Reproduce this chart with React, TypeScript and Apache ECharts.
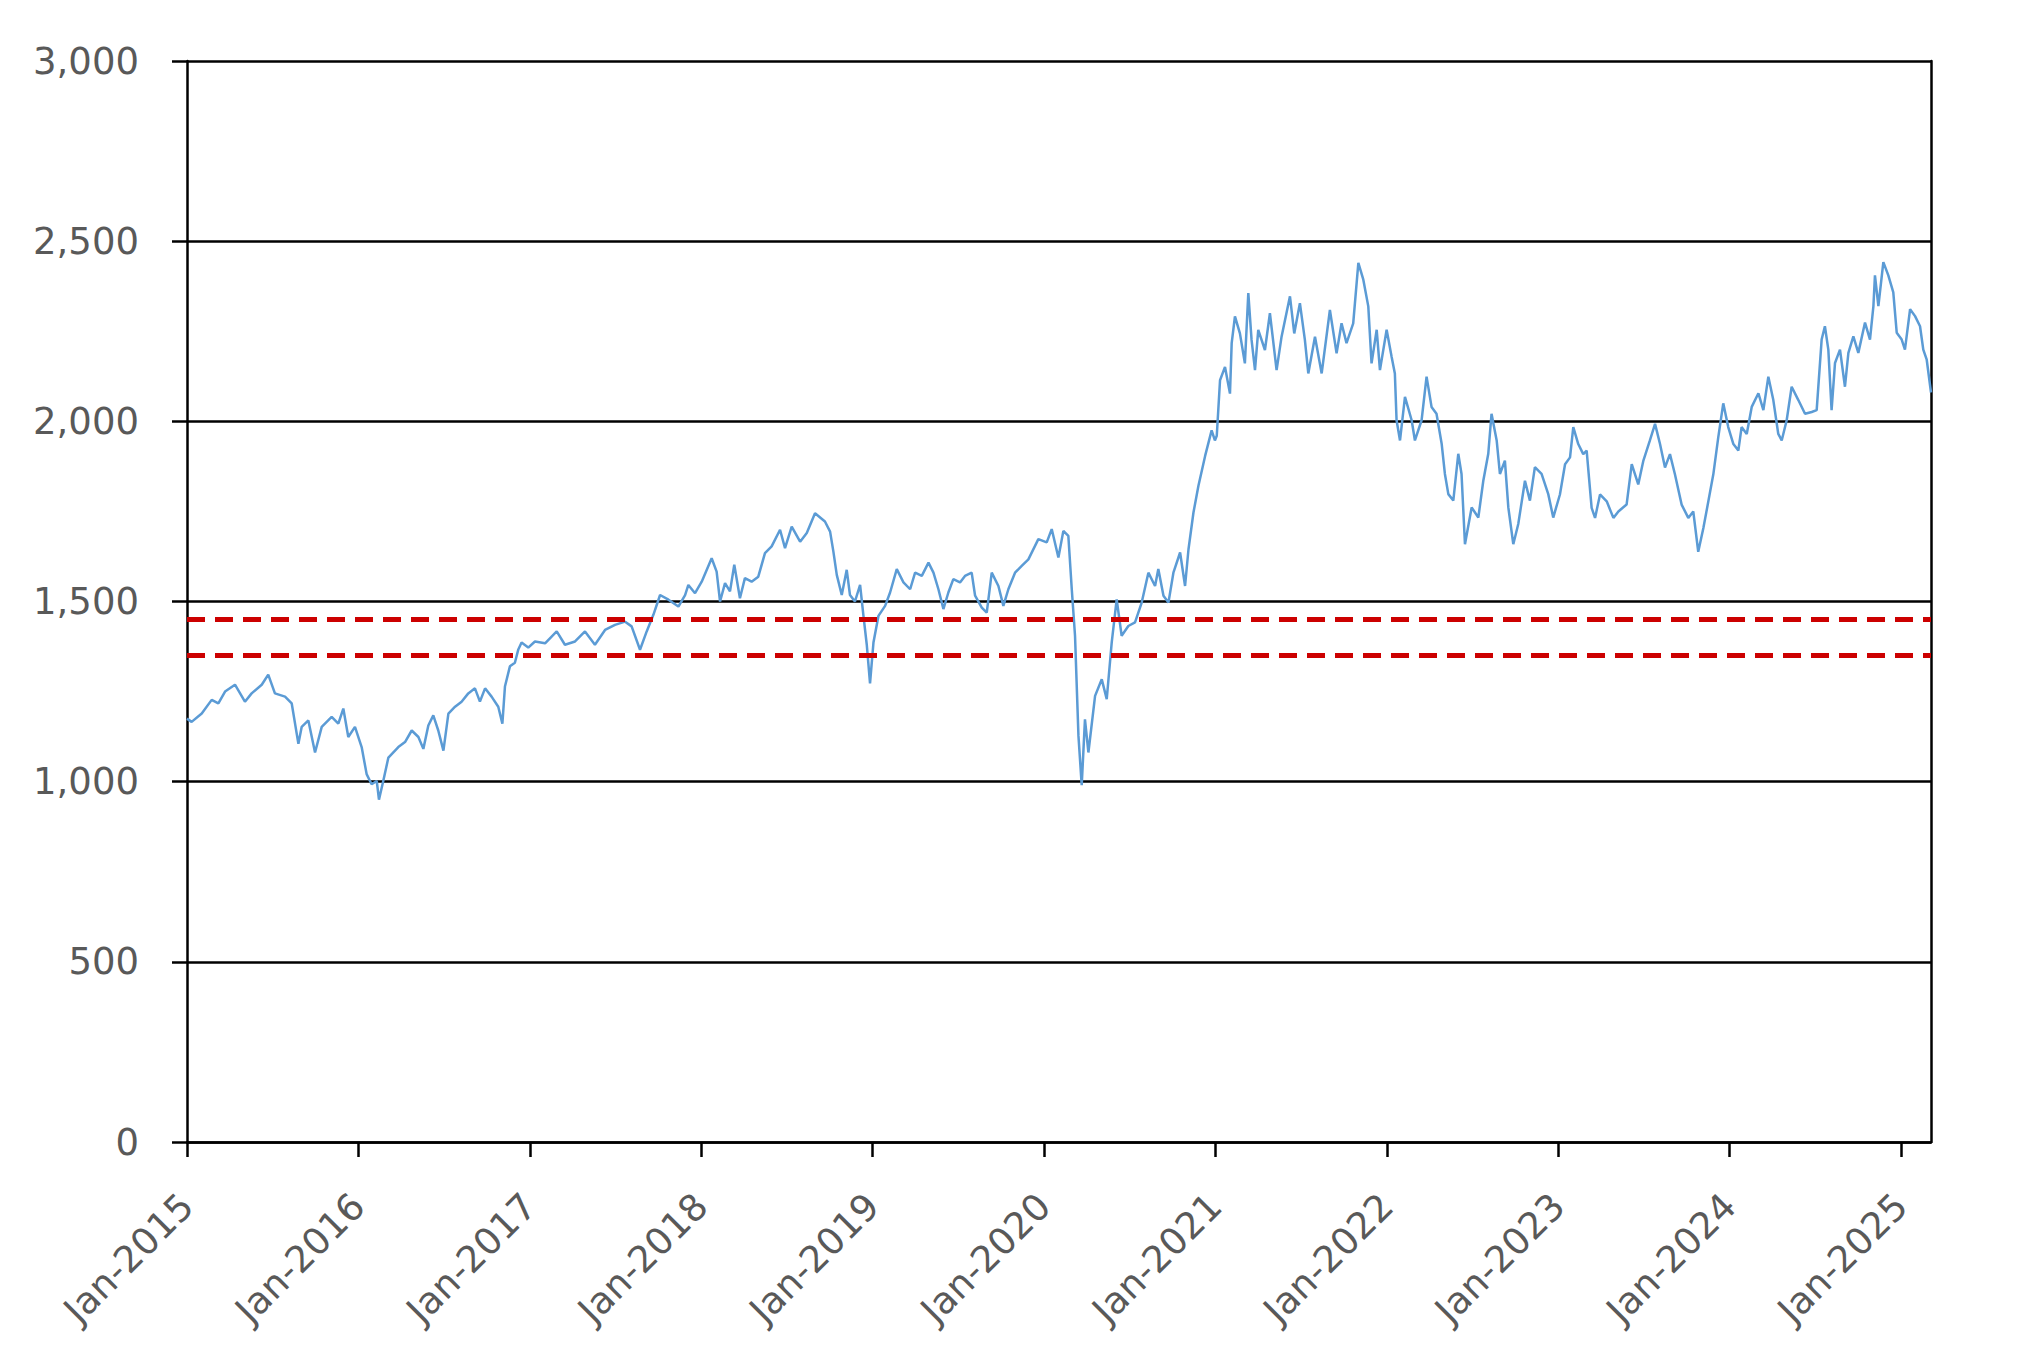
import React, { useEffect, useRef } from "react";
import * as echarts from "echarts";

// Decimal-year positions of the sampled points
const dates: number[] = [
  2015.000, 2015.027, 2015.086, 2015.144, 2015.183, 2015.222, 2015.280, 2015.338, 2015.377, 2015.436,
  2015.474, 2015.513, 2015.572, 2015.611, 2015.650, 2015.669, 2015.708, 2015.747, 2015.786, 2015.844,
  2015.883, 2015.912, 2015.941, 2015.980, 2016.019, 2016.048, 2016.077, 2016.107, 2016.120, 2016.145,
  2016.175, 2016.233, 2016.272, 2016.311, 2016.350, 2016.379, 2016.408, 2016.437, 2016.466, 2016.496,
  2016.525, 2016.564, 2016.602, 2016.641, 2016.680, 2016.709, 2016.739, 2016.777, 2016.816, 2016.840,
  2016.855, 2016.884, 2016.913, 2016.933, 2016.952, 2016.991,
  2017.030, 2017.089, 2017.157, 2017.205, 2017.264, 2017.322, 2017.380, 2017.439, 2017.497, 2017.556,
  2017.594, 2017.643, 2017.682, 2017.721, 2017.760, 2017.809, 2017.867, 2017.906, 2017.925, 2017.964,
  2018.003, 2018.061, 2018.090, 2018.110, 2018.139, 2018.168, 2018.193, 2018.226, 2018.255, 2018.294,
  2018.333, 2018.372, 2018.411, 2018.460, 2018.489, 2018.528, 2018.577, 2018.616, 2018.664, 2018.722,
  2018.752, 2018.771, 2018.791, 2018.820, 2018.849, 2018.868, 2018.897, 2018.927, 2018.946, 2018.966,
  2018.985,
  2019.005, 2019.034, 2019.073, 2019.102, 2019.141, 2019.180, 2019.219, 2019.248, 2019.287, 2019.326,
  2019.355, 2019.384, 2019.413, 2019.442, 2019.471, 2019.510, 2019.539, 2019.578, 2019.598, 2019.637,
  2019.666, 2019.695, 2019.734, 2019.763, 2019.792, 2019.831, 2019.870, 2019.909, 2019.967, 2020.016,
  2020.045, 2020.084, 2020.113, 2020.142, 2020.162, 2020.181, 2020.201, 2020.220, 2020.239, 2020.259,
  2020.298, 2020.337, 2020.366, 2020.395, 2020.424, 2020.453, 2020.492, 2020.531, 2020.570, 2020.609,
  2020.648, 2020.667, 2020.697, 2020.726, 2020.755, 2020.794, 2020.823, 2020.843, 2020.872, 2020.901,
  2020.940, 2020.978, 2020.997,
  2021.008, 2021.027, 2021.056, 2021.085, 2021.095, 2021.114, 2021.143, 2021.172, 2021.192, 2021.211,
  2021.231, 2021.250, 2021.289, 2021.318, 2021.357, 2021.386, 2021.435, 2021.460, 2021.493, 2021.522,
  2021.542, 2021.581, 2021.620, 2021.668, 2021.707, 2021.736, 2021.765, 2021.804, 2021.834, 2021.863,
  2021.892, 2021.911, 2021.941, 2021.960, 2021.999, 2022.028, 2022.047, 2022.057, 2022.077, 2022.106,
  2022.145, 2022.164, 2022.203, 2022.232, 2022.261, 2022.290, 2022.320, 2022.339, 2022.359, 2022.388,
  2022.417, 2022.436, 2022.456, 2022.495, 2022.534, 2022.563, 2022.592, 2022.611, 2022.641, 2022.660,
  2022.689, 2022.709, 2022.738, 2022.767, 2022.806, 2022.835, 2022.864, 2022.903, 2022.942, 2022.971,
  2023.010, 2023.040, 2023.069, 2023.088, 2023.117, 2023.146, 2023.166, 2023.195, 2023.215, 2023.244,
  2023.283, 2023.322, 2023.351, 2023.399, 2023.429, 2023.467, 2023.497, 2023.535, 2023.565, 2023.594,
  2023.623, 2023.652, 2023.681, 2023.720, 2023.759, 2023.788, 2023.817, 2023.847, 2023.876, 2023.905,
  2023.934, 2023.963, 2023.992, 2024.022, 2024.051, 2024.070, 2024.100, 2024.129, 2024.168, 2024.197,
  2024.226, 2024.255, 2024.284, 2024.304, 2024.333, 2024.362, 2024.401, 2024.440, 2024.479, 2024.508,
  2024.537, 2024.556, 2024.576, 2024.595, 2024.615, 2024.644, 2024.673, 2024.693, 2024.722, 2024.751,
  2024.790, 2024.819, 2024.839, 2024.848, 2024.868, 2024.897, 2024.926, 2024.955, 2024.975, 2025.004,
  2025.023, 2025.053, 2025.082, 2025.111, 2025.130, 2025.150, 2025.175,
];

const values: number[] = [
  1175, 1166, 1189, 1227, 1217, 1250, 1269, 1222, 1245, 1269,
  1297, 1245, 1236, 1217, 1105, 1152, 1170, 1081, 1152, 1180,
  1161, 1203, 1124, 1152, 1096, 1021, 993, 1002, 950, 1002,
  1067, 1096, 1110, 1142, 1124, 1091, 1156, 1184, 1142, 1086,
  1189, 1208, 1222, 1245, 1259, 1222, 1259, 1236, 1208, 1161,
  1264, 1320, 1330, 1367, 1386, 1372,
  1389, 1384, 1417, 1380, 1389, 1417, 1380, 1421, 1435, 1444,
  1431, 1366, 1417, 1463, 1518, 1505, 1486, 1518, 1546, 1523,
  1555, 1620, 1583, 1500, 1551, 1528, 1602, 1509, 1565, 1555,
  1569, 1634, 1653, 1699, 1648, 1708, 1666, 1690, 1745, 1722,
  1694, 1639, 1574, 1518, 1588, 1518, 1500, 1546, 1463, 1380,
  1273,
  1386, 1460, 1488, 1525, 1590, 1553, 1534, 1580, 1571, 1608,
  1580, 1534, 1479, 1525, 1562, 1553, 1571, 1580, 1516, 1483,
  1469, 1580, 1543, 1488, 1534, 1580, 1599, 1617, 1673, 1664,
  1701, 1622, 1696, 1682, 1534, 1405, 1127, 990, 1173, 1081,
  1238, 1284, 1229, 1386, 1506, 1405, 1432, 1442, 1497, 1580,
  1543, 1590, 1516, 1497, 1580, 1636, 1543, 1645, 1747, 1821,
  1904, 1975, 1947,
  1960, 2114, 2151, 2077, 2217, 2291, 2244, 2161, 2356, 2226,
  2142, 2254, 2198, 2300, 2142, 2235, 2347, 2244, 2328, 2226,
  2133, 2235, 2133, 2309, 2189, 2272, 2217, 2272, 2440, 2393,
  2319, 2161, 2254, 2142, 2254, 2179, 2133, 2003, 1947, 2068,
  2003, 1947, 2003, 2124, 2040, 2021, 1938, 1854, 1798, 1780,
  1910, 1854, 1659, 1761, 1733, 1835, 1910, 2021, 1947, 1854,
  1891, 1761, 1659, 1715, 1835, 1780, 1873, 1854, 1798, 1733,
  1797, 1881, 1900, 1984, 1937, 1909, 1919, 1760, 1732, 1797,
  1778, 1732, 1750, 1769, 1881, 1825, 1891, 1947, 1993, 1937,
  1872, 1909, 1853, 1769, 1732, 1750, 1638, 1704, 1778, 1853,
  1956, 2050, 1984, 1937, 1919, 1984, 1965, 2040, 2078, 2031,
  2124, 2059, 1965, 1947, 2003, 2096, 2059, 2021, 2026, 2031,
  2227, 2264, 2199, 2031, 2162, 2199, 2096, 2190, 2236, 2190,
  2274, 2227, 2320, 2405, 2320, 2442, 2405, 2358, 2246, 2227,
  2199, 2311, 2292, 2264, 2199, 2171, 2080,
];

const tickYears: number[] = [2015, 2016, 2017, 2018, 2019, 2020, 2021, 2022, 2023, 2024, 2025];
const bandLevels: number[] = [1450, 1350];
const xMin = 2015;
const xMax = 2025.175;

export default function App() {
  const ref = useRef<HTMLDivElement>(null);

  useEffect(() => {
    if (!ref.current) return;
    const chart = echarts.init(ref.current, undefined, { renderer: "svg" });
    const black = "#000000";
    const textColor = "#595959";
    const font = "DejaVu Sans";
    chart.setOption({
      animation: false,
      backgroundColor: "#ffffff",
      grid: { left: 187, right: 95, top: 61, bottom: 225, containLabel: false },
      xAxis: {
        type: "value",
        min: xMin,
        max: xMax,
        axisLine: { show: true, lineStyle: { color: black, width: 2.5 } },
        axisTick: {
          show: true,
          customValues: tickYears,
          length: 15,
          lineStyle: { color: black, width: 2.5 },
        },
        axisLabel: {
          customValues: tickYears,
          rotate: 45,
          margin: 58,
          color: textColor,
          fontFamily: font,
          fontSize: 37,
          formatter: (v: number) => "Jan-" + Math.round(v),
        },
        splitLine: { show: false },
      },
      yAxis: [
        {
          type: "value",
          min: 0,
          max: 3000,
          interval: 500,
          axisLine: { show: true, lineStyle: { color: black, width: 2.5 } },
          axisTick: { show: true, length: 15, lineStyle: { color: black, width: 2.5 } },
          axisLabel: {
            margin: 48,
            color: textColor,
            fontFamily: font,
            fontSize: 37,
            formatter: (v: number) => v.toLocaleString("en-US"),
          },
          splitLine: { show: true, lineStyle: { color: black, width: 2.5 } },
        },
        {
          type: "value",
          position: "right",
          min: 0,
          max: 3000,
          interval: 500,
          axisLine: { show: true, lineStyle: { color: black, width: 2.5 } },
          axisTick: { show: false },
          axisLabel: { show: false },
          splitLine: { show: false },
        },
      ],
      series: [
        {
          type: "line",
          yAxisIndex: 0,
          data: dates.map((d, i) => [d, values[i]]),
          showSymbol: false,
          symbol: "none",
          lineStyle: { color: "#5B9BD5", width: 2.5 },
          itemStyle: { color: "#5B9BD5" },
          markLine: {
            silent: true,
            symbol: ["none", "none"],
            label: { show: false },
            lineStyle: { color: "#CC0000", width: 5, type: [18, 10] },
            data: bandLevels.map((v) => ({ yAxis: v })),
          },
        },
      ],
    });
    return () => chart.dispose();
  }, []);

  return (
    <div
      ref={ref}
      style={{ position: "absolute", left: 0, top: 0, width: 2026, height: 1367, background: "#fff" }}
    />
  );
}
